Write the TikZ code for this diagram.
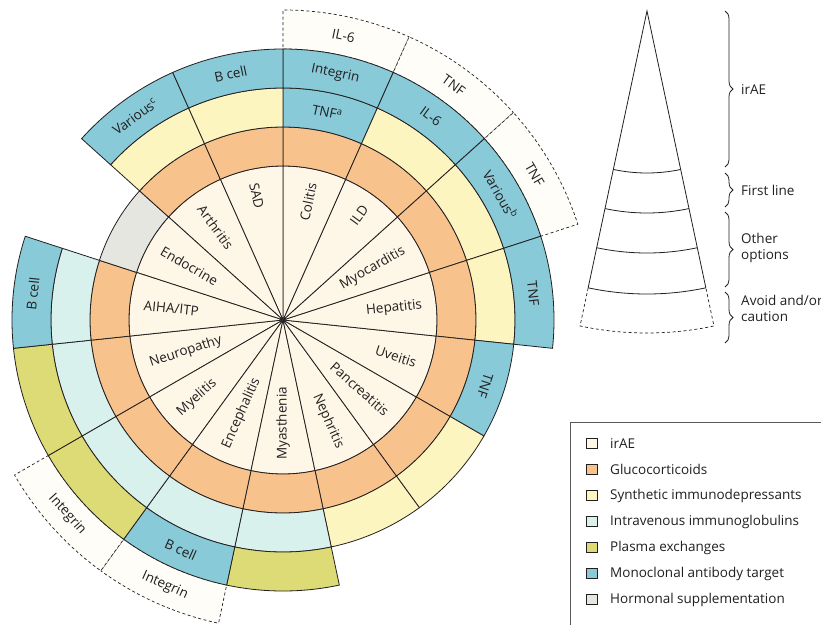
\documentclass[tikz,border=0pt]{standalone}
\usepackage{fontspec}
\setmainfont{Open Sans}
\usetikzlibrary{decorations.pathreplacing}

\definecolor{irae}{RGB}{254,246,230}
\definecolor{glu}{RGB}{248,194,140}
\definecolor{syn}{RGB}{253,245,192}
\definecolor{ivig}{RGB}{216,241,236}
\definecolor{plex}{RGB}{221,219,118}
\definecolor{mab}{RGB}{136,202,216}
\definecolor{horm}{RGB}{230,230,225}
\definecolor{avoid}{RGB}{254,253,248}
\definecolor{ink}{RGB}{35,31,32}

\begin{document}
\begin{tikzpicture}[x=1pt, y=1pt,
    cell/.style={draw=ink, line width=0.8pt},
    avoidcell/.style={draw=ink, dash pattern=on 3pt off 2.5pt, line width=0.7pt, fill=avoid},
    dis/.style={font=\fontsize{13.5}{15}\selectfont, text=ink, inner sep=0pt},
    drug/.style={font=\fontsize{13.5}{15}\selectfont, text=ink, inner sep=0pt},
    swatch/.style={draw=ink, minimum size=10.5pt, inner sep=0pt, line width=0.6pt},
    lgd/.style={font=\fontsize{13.5}{16}\selectfont, text=ink, anchor=west, inner sep=0pt},
    brc/.style={draw=ink, decorate, decoration={brace, amplitude=8pt}, line width=0.8pt}
]
\useasboundingbox (-283,-304) rectangle (538,320);

\foreach \a in {66,42,18,-126,-150}
  \draw[avoidcell] (\a:271) arc[start angle=\a, end angle=\a+24, radius=271] -- (\a+24:310) arc[start angle=\a+24, end angle=\a, radius=310] -- cycle;

\foreach \a in {-174,-150,...,162}
  \draw[cell, fill=irae] (0,0) -- (\a:154) arc[start angle=\a, end angle=\a+24, radius=154] -- cycle;

\foreach \a/\c in {66/glu,42/glu,18/glu,-6/glu,-30/glu,-54/glu,-78/glu,-102/glu,-126/glu,-150/glu,-174/glu,162/glu,138/horm,114/glu,90/glu}
  \draw[cell, fill=\c] (\a:154) arc[start angle=\a, end angle=\a+24, radius=154] -- (\a+24:193) arc[start angle=\a+24, end angle=\a, radius=193] -- cycle;

\foreach \a/\c in {66/mab,42/syn,18/syn,-6/syn,-30/mab,-54/syn,-78/syn,-102/ivig,-126/ivig,-150/ivig,-174/ivig,162/ivig,114/syn,90/syn}
  \draw[cell, fill=\c] (\a:193) arc[start angle=\a, end angle=\a+24, radius=193] -- (\a+24:232) arc[start angle=\a+24, end angle=\a, radius=232] -- cycle;

\foreach \a/\c in {66/mab,42/mab,18/mab,-6/mab,-102/plex,-126/mab,-150/plex,-174/plex,162/mab,114/mab,90/mab}
  \draw[cell, fill=\c] (\a:232) arc[start angle=\a, end angle=\a+24, radius=232] -- (\a+24:271) arc[start angle=\a+24, end angle=\a, radius=271] -- cycle;

\node[dis, rotate=78, anchor=east] (colitis) at (78:140) {Colitis};
\node[dis, rotate=54, anchor=east] (ild) at (54:140) {ILD};
\node[dis, rotate=30, anchor=east] (myocarditis) at (30:140) {Myocarditis};
\node[dis, rotate=6, anchor=east] (hepatitis) at (6:140) {Hepatitis};
\node[dis, rotate=-18, anchor=east] (uveitis) at (-18:140) {Uveitis};
\node[dis, rotate=-42, anchor=east] (pancreatitis) at (-42:140) {Pancreatitis};
\node[dis, rotate=-66, anchor=east] (nephritis) at (-66:140) {Nephritis};
\node[dis, rotate=90, anchor=west] (myasthenia) at (-90:140) {Myasthenia};
\node[dis, rotate=66, anchor=west] (encephalitis) at (-114:140) {Encephalitis};
\node[dis, rotate=42, anchor=west] (myelitis) at (-138:140) {Myelitis};
\node[dis, rotate=18, anchor=west] (neuropathy) at (-162:140) {Neuropathy};
\node[dis, rotate=-6, anchor=west] (aiha) at (174:140) {AIHA/ITP};
\node[dis, rotate=-30, anchor=west] (endocrine) at (150:140) {Endocrine};
\node[dis, rotate=-54, anchor=west] (arthritis) at (126:140) {Arthritis};
\node[dis, rotate=-78, anchor=west] (sad) at (102:140) {SAD};

\node[drug, rotate=-12] (tnfcol) at (78:212.5) {TNF\textsuperscript{a}};
\node[drug, rotate=-108] (tnfuve) at (-18:212.5) {TNF};
\node[drug, rotate=-12] (intcol) at (78:251.5) {Integrin};
\node[drug, rotate=-36] (il6ild) at (54:251.5) {IL-6};
\node[drug, rotate=-60] (varmyo) at (30:251.5) {Various\textsuperscript{b}};
\node[drug, rotate=-84] (tnfhep) at (6:251.5) {TNF};
\node[drug, rotate=-24] (bcellenc) at (-114:251.5) {B cell};
\node[drug, rotate=84] (bcellaiha) at (174:251.5) {B cell};
\node[drug, rotate=36] (varart) at (126:251.5) {Various\textsuperscript{c}};
\node[drug, rotate=12] (bcellsad) at (102:251.5) {B cell};
\node[drug, rotate=-12] (il6col) at (78:290.5) {IL-6};
\node[drug, rotate=-36] (tnfild) at (54:290.5) {TNF};
\node[drug, rotate=-60] (tnfmyo) at (30:290.5) {TNF};
\node[drug, rotate=-24] (intenc) at (-114:290.5) {Integrin};
\node[drug, rotate=-48] (intmye) at (-138:290.5) {Integrin};

\begin{scope}[shift={(364,309)}]
\draw[ink, line width=0.8pt] (-102:283) -- (0,0) -- (-78:283);
\foreach \r in {162,202,242,283}
  \draw[ink, line width=0.8pt] (-102:\r) arc[start angle=-102, end angle=-78, radius=\r];
\draw[ink, line width=0.7pt, dash pattern=on 3pt off 2.5pt] (-102:283) -- (-102:322) arc[start angle=-102, end angle=-78, radius=322] -- (-78:283);
\end{scope}

\draw[brc] (442,309) -- (442,153);
\draw[brc] (442,147) -- (442,113);
\draw[brc] (442,108) -- (442,33);
\draw[brc] (442,28) -- (442,-23);
\node[lgd] (lirae) at (458,230) {irAE};
\node[lgd] (lfirst) at (458,130) {First line};
\node[lgd, align=left] (lother) at (458,72) {Other\\options};
\node[lgd, align=left] (lavoid) at (458,12) {Avoid and/or\\caution};

\draw[draw=black!65, line width=0.8pt, fill=white] (287,-102) rectangle (548,-312);
\node[swatch, fill=irae] (sw1) at (309,-123.5) {};
\node[swatch, fill=glu] (sw2) at (309,-149.5) {};
\node[swatch, fill=syn] (sw3) at (309,-175.5) {};
\node[swatch, fill=ivig] (sw4) at (309,-201.5) {};
\node[swatch, fill=plex] (sw5) at (309,-227.5) {};
\node[swatch, fill=mab] (sw6) at (309,-253.5) {};
\node[swatch, fill=horm] (sw7) at (309,-279.5) {};
\node[lgd] (t1) at (327,-123.5) {irAE};
\node[lgd] (t2) at (327,-149.5) {Glucocorticoids};
\node[lgd] (t3) at (327,-175.5) {Synthetic immunodepressants};
\node[lgd] (t4) at (327,-201.5) {Intravenous immunoglobulins};
\node[lgd] (t5) at (327,-227.5) {Plasma exchanges};
\node[lgd] (t6) at (327,-253.5) {Monoclonal antibody target};
\node[lgd] (t7) at (327,-279.5) {Hormonal supplementation};
\end{tikzpicture}
\end{document}
